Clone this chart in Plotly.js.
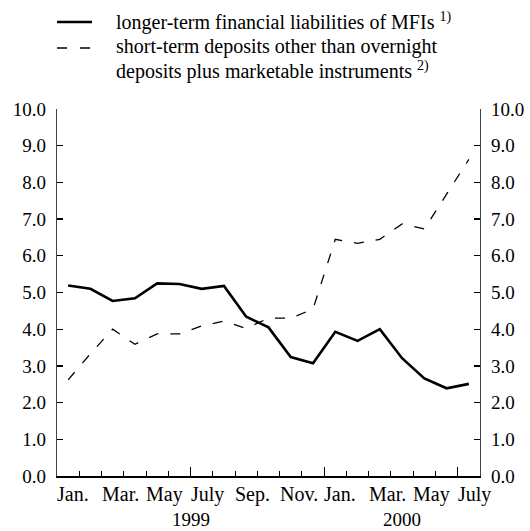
<!DOCTYPE html>
<html>
<head>
<meta charset="utf-8">
<script src="https://cdn.plot.ly/plotly-3.0.1.min.js"></script>
<style>html,body{margin:0;padding:0;background:#fff;}#chart{width:530px;height:531px;}</style>
</head>
<body>
<div id="chart"></div>
<script>
// Months Jan 1999 .. July 2000
const months = ["Jan.","Feb.","Mar.","Apr.","May","June","July","Aug.","Sep.","Oct.","Nov.","Dec.",
                "Jan.","Feb.","Mar.","Apr.","May","June","July"];
const monthIndex = months.map((m, i) => i + 0.5);
const tickLabels = ["Jan.","Mar.","May","July","Sep.","Nov.","Jan.","Mar.","May","July"];
const tickStarts = [0, 2, 4, 6, 8, 10, 12, 14, 16, 18];
const years = ["1999", "2000"];
const yearCenters = [6, 15.5];
const seriesNames = ["longer-term financial liabilities of MFIs <sup>1)</sup>",
                     "short-term deposits other than overnight<br>deposits plus marketable instruments <sup>2)</sup>"];

const longerTerm = [5.19, 5.10, 4.77, 4.84, 5.25, 5.23, 5.10, 5.18, 4.34, 4.05, 3.24, 3.07,
                    3.93, 3.68, 4.00, 3.21, 2.66, 2.39, 2.51];
const shortTerm  = [2.62, 3.33, 4.00, 3.59, 3.87, 3.87, 4.09, 4.22, 4.02, 4.30, 4.30, 4.55,
                    6.45, 6.34, 6.45, 6.87, 6.73, 7.68, 8.63];

const font = '"Liberation Serif", "Times New Roman", Times, serif';

const traces = [
  {x: monthIndex, y: longerTerm, type: 'scatter', mode: 'lines', yaxis: 'y',
   name: seriesNames[0], showlegend: false,
   line: {color: '#000', width: 2.6}},
  {x: monthIndex, y: shortTerm, type: 'scatter', mode: 'lines', yaxis: 'y2',
   name: seriesNames[1], showlegend: false,
   line: {color: '#000', width: 1.3, dash: '10px,12px'}}
];

// pixel -> paper helpers (plot area: left 57, top 109, 423 x 367)
const px = v => (v - 57) / 423;
const py = v => (476 - v) / 367;

const annotations = [];
tickStarts.forEach((v, i) => annotations.push({
  x: v, y: 0, xref: 'x', yref: 'paper', text: tickLabels[i], showarrow: false,
  xanchor: 'left', yanchor: 'middle', yshift: -18, xshift: -2,
  font: {family: font, size: 20, color: '#000'}
}));
years.forEach((t, i) => annotations.push({
  x: yearCenters[i], y: 0, xref: 'x', yref: 'paper', text: t, showarrow: false,
  xanchor: 'center', yanchor: 'middle', yshift: -43,
  font: {family: font, size: 19, color: '#000'}
}));
// manual legend: each text line placed separately
const legendLines = [seriesNames[0]].concat(seriesNames[1].split('<br>'));
const legendLineY = [21, 46.5, 70.5];
legendLines.forEach((t, i) => annotations.push({
  x: px(114), y: py(legendLineY[i]), xref: 'paper', yref: 'paper', text: t,
  showarrow: false, xanchor: 'left', yanchor: 'middle', align: 'left',
  font: {family: font, size: 20, color: '#000'}
}));

const shapes = [
  {type: 'line', xref: 'paper', yref: 'paper', x0: px(57), x1: px(92), y0: py(22), y1: py(22),
   line: {color: '#000', width: 2.6}},
  {type: 'line', xref: 'paper', yref: 'paper', x0: px(57), x1: px(92), y0: py(48), y1: py(48),
   line: {color: '#000', width: 1.3, dash: '10px,13px'}}
];

const yax = {
  range: [0, 10], dtick: 1, tick0: 0, tickformat: '.1f',
  ticks: 'inside', ticklen: 6, tickwidth: 1.3, tickcolor: '#000',
  showline: true, linecolor: '#444', linewidth: 1.3,
  showgrid: false, zeroline: false, fixedrange: true, ticklabelstandoff: 6,
  tickfont: {family: font, size: 19, color: '#000'}
};

const layout = {
  width: 530, height: 531,
  margin: {l: 57, r: 50, t: 109, b: 55},
  paper_bgcolor: '#fff', plot_bgcolor: '#fff',
  font: {family: font, color: '#000', size: 19},
  showlegend: false,
  xaxis: {range: [0, 19], showline: true, linecolor: '#000', linewidth: 2,
          ticks: 'inside', tickvals: [6, 12, 18], ticklen: 9, tickwidth: 1, tickcolor: '#000',
          showticklabels: false, showgrid: false, zeroline: false, fixedrange: true,
          minor: {tickvals: [1,2,3,4,5,7,8,9,10,11,13,14,15,16,17], ticks: 'inside', ticklen: 5,
                  tickwidth: 1, tickcolor: '#000', showgrid: false}},
  yaxis: Object.assign({}, yax, {side: 'left'}),
  yaxis2: Object.assign({}, yax, {side: 'right', overlaying: 'y'}),
  annotations: annotations,
  shapes: shapes
};

Plotly.newPlot('chart', traces, layout, {displayModeBar: false, staticPlot: true});
</script>
</body>
</html>
